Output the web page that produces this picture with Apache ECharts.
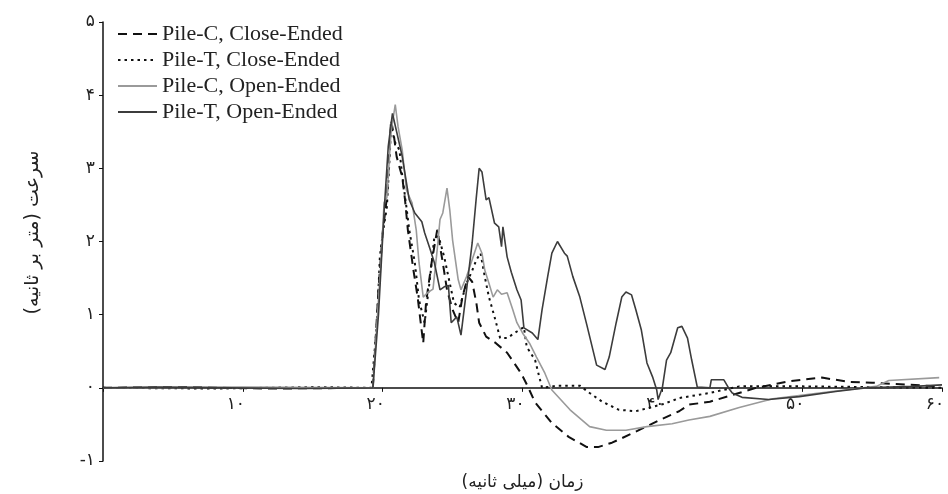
<!DOCTYPE html>
<html>
<head>
<meta charset="utf-8">
<script src="https://cdn.jsdelivr.net/npm/echarts@6/dist/echarts.min.js"></script>
<style>
  html, body { margin: 0; padding: 0; background: #fff; }
  #chart { width: 948px; height: 494px; }
</style>
</head>
<body>
<div id="chart"></div>
<script>
// [time (ms), velocity (m/s)]
const pileCClose = [
  [0, 0], [6, 0.01], [12, -0.01], [19.3, 0], [19.7, 1.34], [20.0, 2.12], [20.3, 2.6], [20.5, 3.29], [20.6, 3.66],
  [20.8, 3.45], [21.0, 3.16], [21.4, 2.88], [21.6, 2.57], [21.8, 2.16], [22.2, 1.61], [22.5, 1.24], [22.9, 0.61],
  [23.1, 1.16], [23.5, 1.71], [23.9, 2.16], [24.0, 2.05], [24.3, 1.71], [24.6, 1.34], [25.0, 1.07], [25.4, 0.89],
  [25.7, 1.24], [26.1, 1.52], [26.4, 1.45], [26.7, 1.16], [26.9, 0.89], [27.4, 0.7], [28.1, 0.61], [28.9, 0.48],
  [29.4, 0.34], [29.9, 0.2], [30.4, 0.01], [30.9, -0.2], [32.1, -0.48], [33.3, -0.67], [34.6, -0.81], [35.4, -0.81],
  [36.4, -0.75], [38.1, -0.6], [39.8, -0.44], [41.2, -0.32], [41.9, -0.23], [43.4, -0.19], [44.8, -0.11], [46.7, 0.0],
  [49.1, 0.09], [51.4, 0.14], [53.4, 0.08], [55.0, 0.07], [59.8, 0.02]
];
const pileTClose = [
  [0, 0], [8, -0.01], [15, 0.01], [19.2, 0], [19.6, 0.9], [19.8, 1.79], [20.0, 2.1], [20.3, 2.47], [20.5, 3.16],
  [20.6, 3.57], [20.9, 3.35], [21.2, 3.25], [21.4, 2.9], [21.7, 2.47], [21.9, 2.16], [22.3, 1.71], [22.6, 1.2],
  [23.0, 0.89], [23.4, 1.52], [23.7, 2.07], [24.0, 2.07], [24.4, 1.79], [24.8, 1.43], [25.1, 1.16], [25.5, 1.1],
  [26.0, 1.43], [26.4, 1.6], [26.7, 1.75], [27.0, 1.84], [27.3, 1.52], [27.6, 1.24], [28.0, 0.97], [28.4, 0.68],
  [28.9, 0.68], [29.6, 0.77], [30.1, 0.83], [30.3, 0.56], [30.9, 0.38], [31.2, 0.15], [31.4, 0.0], [32.5, 0.03],
  [34.1, 0.03], [34.8, -0.07], [35.7, -0.19], [36.9, -0.3], [38.1, -0.32], [39.3, -0.26], [40.1, -0.22],
  [41.2, -0.14], [43.4, -0.07], [45.5, 0.02], [50, 0.02], [55, 0.01], [60, 0.0]
];
const pileCOpen = [
  [0, 0], [10, 0.01], [19.3, 0], [19.6, 0.9], [19.9, 1.79], [20.1, 2.53], [20.3, 2.6], [20.6, 3.5], [20.9, 3.87],
  [21.1, 3.57], [21.4, 3.25], [21.7, 2.7], [22.1, 2.53], [22.4, 2.16], [22.6, 1.71], [22.9, 1.24], [23.2, 1.3],
  [23.6, 1.35], [23.9, 1.89], [24.1, 2.3], [24.3, 2.39], [24.6, 2.73], [24.8, 2.43], [25.0, 2.02], [25.4, 1.48],
  [25.6, 1.34], [26.0, 1.52], [26.4, 1.75], [26.8, 1.98], [27.1, 1.84], [27.3, 1.61], [27.6, 1.43], [27.9, 1.24],
  [28.2, 1.34], [28.5, 1.28], [28.9, 1.3], [29.3, 1.07], [29.6, 0.89], [30.0, 0.75], [30.5, 0.61], [31.0, 0.42],
  [31.6, 0.2], [32.1, -0.03], [33.4, -0.3], [34.8, -0.53], [36.0, -0.58], [37.4, -0.58], [38.9, -0.53],
  [40.7, -0.49], [41.9, -0.44], [43.4, -0.39], [45.5, -0.27], [47.9, -0.15], [52.1, -0.05], [55.3, 0.02],
  [56.2, 0.1], [59.8, 0.14]
];
const pileTOpen = [
  [0, 0], [4, 0.01], [14, -0.01], [19.3, 0], [19.7, 1.0], [20.1, 2.4], [20.4, 3.3], [20.7, 3.75], [21.0, 3.5],
  [21.4, 3.16], [21.9, 2.57], [22.3, 2.39], [22.8, 2.27], [23.0, 2.12], [23.4, 1.89], [23.7, 1.71], [24.1, 1.34],
  [24.4, 1.38], [24.7, 1.4], [24.9, 0.89], [25.3, 0.97], [25.6, 0.72], [26.0, 1.34], [26.4, 1.98], [26.7, 2.61],
  [26.9, 3.0], [27.1, 2.95], [27.4, 2.57], [27.6, 2.6], [28.0, 2.25], [28.3, 2.2], [28.5, 1.93], [28.6, 2.2],
  [28.9, 1.79], [29.2, 1.58], [29.6, 1.34], [29.9, 1.2], [30.1, 0.82], [30.7, 0.75], [31.1, 0.66], [31.4, 1.07],
  [31.8, 1.52], [32.1, 1.84], [32.5, 2.0], [33.0, 1.84], [33.2, 1.8], [33.6, 1.52], [34.1, 1.24], [34.6, 0.86],
  [35.3, 0.31], [35.9, 0.25], [36.2, 0.42], [36.7, 0.89], [37.1, 1.24], [37.4, 1.31], [37.8, 1.27], [38.1, 1.07],
  [38.5, 0.79], [38.9, 0.34], [39.3, 0.15], [39.6, -0.03], [39.7, -0.16], [40.0, 0.0], [40.3, 0.38], [40.6, 0.48],
  [41.1, 0.82], [41.4, 0.84], [41.8, 0.68], [42.1, 0.38], [42.5, 0.01], [43.4, 0.0], [43.5, 0.11], [44.4, 0.11],
  [44.8, -0.02], [45.0, -0.07], [45.7, -0.13], [47.6, -0.16], [49.8, -0.12], [52.4, -0.05], [54.5, 0.0],
  [58, 0.02], [60, 0.04]
];

const seriesNames = ['Pile-C, Close-Ended', 'Pile-T, Close-Ended', 'Pile-C, Open-Ended', 'Pile-T, Open-Ended'];
const xTitle = 'زمان (میلی ثانیه)';
const yTitle = 'سرعت (متر بر ثانیه)';

const faDigits = '۰۱۲۳۴۵۶۷۸۹';
function toFa(n) {
  const s = String(Math.abs(n)).replace(/[0-9]/g, d => faDigits[d]);
  return n < 0 ? '-' + s : s;
}

const chart = echarts.init(document.getElementById('chart'));
const persianFont = 'DejaVu Sans';
const yMin = -1, yMax = 5;
const gridTop = 22, gridBottom = 33;
// pixel offset that lifts the x axis from the grid bottom up to v = 0
const zeroOffset = -(494 - gridTop - gridBottom) * (0 - yMin) / (yMax - yMin);

function lineSeries(name, data, color, width, type) {
  return {
    name: name,
    type: 'line',
    data: data,
    showSymbol: false,
    symbol: 'none',
    lineStyle: { color: color, width: width, type: type },
    itemStyle: { color: color }
  };
}

const option = {
  backgroundColor: '#fff',
  animation: false,
  grid: { left: 103, right: 6, top: gridTop, bottom: gridBottom, containLabel: false, outerBoundsMode: 'none' },
  legend: {
    orient: 'vertical',
    left: 112,
    top: 18,
    itemWidth: 39,
    itemHeight: 14,
    itemGap: 4,
    itemStyle: { opacity: 0 },
    textStyle: { fontFamily: 'Liberation Serif', fontSize: 22, lineHeight: 22, color: '#222' },
    data: seriesNames
  },
  xAxis: {
    type: 'value',
    min: 0,
    max: 60,
    interval: 10,
    offset: zeroOffset,
    name: xTitle + '\u200F',
    nameLocation: 'middle',
    nameGap: 86,
    nameTextStyle: { fontFamily: persianFont, fontSize: 17, color: '#222' },
    axisLine: { onZero: false, lineStyle: { color: '#111', width: 1.5 } },
    axisTick: { show: true, length: 4, inside: false, lineStyle: { color: '#111' } },
    axisLabel: {
      fontFamily: persianFont, fontSize: 17, color: '#222', margin: 8,
      padding: [0, 14, 0, 0],
      formatter: v => (v === 0 ? '' : toFa(v))
    },
    splitLine: { show: false }
  },
  yAxis: {
    type: 'value',
    min: yMin,
    max: yMax,
    interval: 1,
    name: yTitle + '\u200F',
    nameLocation: 'middle',
    nameRotate: 90,
    nameGap: 60,
    nameTextStyle: { fontFamily: persianFont, fontSize: 19, color: '#222', padding: [0, 0, 0, 18] },
    axisLine: { show: true, onZero: false, lineStyle: { color: '#111', width: 1.5 } },
    axisTick: { show: true, length: 4, lineStyle: { color: '#111' } },
    axisLabel: {
      fontFamily: persianFont, fontSize: 17, color: '#222', margin: 8,
      formatter: v => toFa(v)
    },
    splitLine: { show: false }
  },
  series: [
    lineSeries(seriesNames[0], pileCClose, '#111', 2, [9, 6]),
    lineSeries(seriesNames[1], pileTClose, '#111', 2, [2.5, 4]),
    lineSeries(seriesNames[2], pileCOpen, '#9a9a9a', 1.6, 'solid'),
    lineSeries(seriesNames[3], pileTOpen, '#3c3c3c', 1.6, 'solid')
  ]
};

chart.setOption(option);
</script>
</body>
</html>
